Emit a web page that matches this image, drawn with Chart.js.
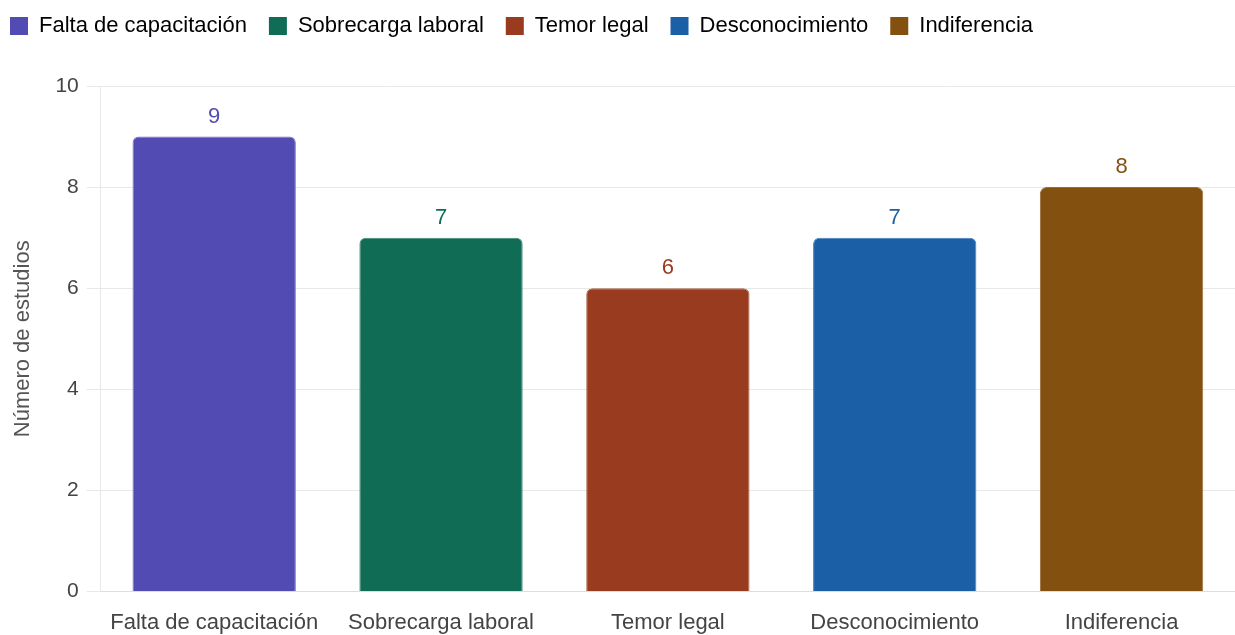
<!DOCTYPE html>
<html>
<head>
<meta charset="utf-8">
<script src="https://cdn.jsdelivr.net/npm/chart.js@4/dist/chart.umd.min.js"></script>
<style>
  html, body { margin: 0; padding: 0; background: #fff; }
  #wrap { width: 1235px; height: 635px; }
</style>
</head>
<body>
<div id="wrap"><canvas id="grafico"></canvas></div>
<script>
const categorias = ["Falta de capacitación", "Sobrecarga laboral", "Temor legal", "Desconocimiento", "Indiferencia"];
const estudios = [9, 7, 6, 7, 8];
const colores = ["#534BB4", "#106C55", "#993B1F", "#1B5FA6", "#845010"];
const ticksY = [0, 2, 4, 6, 8, 10];

Chart.defaults.font.family = "'Liberation Sans', Arial, sans-serif";
Chart.defaults.color = "#666";

// etiquetas de valor encima de cada barra
const etiquetasValor = {
  id: "etiquetasValor",
  afterDatasetsDraw(chart) {
    const ctx = chart.ctx;
    const meta = chart.getDatasetMeta(0);
    ctx.save();
    ctx.font = "22px 'Liberation Sans', Arial, sans-serif";
    ctx.textAlign = "center";
    ctx.textBaseline = "alphabetic";
    meta.data.forEach((barra, i) => {
      ctx.fillStyle = colores[i];
      ctx.fillText(String(estudios[i]), barra.x, barra.y - 14);
    });
    ctx.restore();
  }
};

// espacio extra bajo la leyenda y ajuste de su posicion
const ajusteLeyenda = {
  id: "ajusteLeyenda",
  beforeInit(chart) {
    const fit = chart.legend.fit;
    chart.legend.fit = function () {
      fit.bind(chart.legend)();
      this.height += 32;
    };
  },
  afterLayout(chart) {
    chart.legend.left -= 12;
    chart.legend.top -= 7;
  }
};

new Chart(document.getElementById("grafico"), {
  type: "bar",
  data: {
    labels: categorias,
    datasets: [{
      label: "Número de estudios",
      data: estudios,
      backgroundColor: colores,
      borderColor: colores.map(c => c + "cc"),
      borderWidth: 1,
      borderRadius: { topLeft: 6, topRight: 6 },
      borderSkipped: "bottom"
    }]
  },
  options: {
    responsive: true,
    maintainAspectRatio: false,
    animation: false,
    layout: { autoPadding: false, padding: { left: 0, right: 0, top: 0, bottom: 0 } },
    plugins: {
      legend: {
        position: "top",
        align: "start",
        labels: {
          boxWidth: 18,
          boxHeight: 18,
          useBorderRadius: true,
          borderRadius: 3,
          padding: 22,
          font: { size: 22 },
          color: "#555",
          generateLabels: () => categorias.map((c, i) => ({
            text: c,
            fillStyle: colores[i],
            strokeStyle: colores[i],
            lineWidth: 0,
            hidden: false,
            index: i
          }))
        }
      },
      tooltip: { enabled: false }
    },
    scales: {
      x: {
        grid: { display: false },
        border: { color: "#ddd" },
        ticks: { font: { size: 22 }, color: "#444", padding: 10 },
        afterFit: axis => { axis.height -= 11; }
      },
      y: {
        min: 0,
        max: 10,
        afterBuildTicks: axis => { axis.ticks = ticksY.map(v => ({ value: v })); },
        grid: { color: "#e8e8e8", tickLength: 14 },
        border: { color: "#e8e8e8" },
        ticks: { font: { size: 21 }, color: "#444", padding: 8 },
        title: {
          display: true,
          text: "Número de estudios",
          font: { size: 22 },
          color: "#555",
          padding: { top: 10, bottom: 11 }
        }
      }
    }
  },
  plugins: [etiquetasValor, ajusteLeyenda]
});
</script>
</body>
</html>
